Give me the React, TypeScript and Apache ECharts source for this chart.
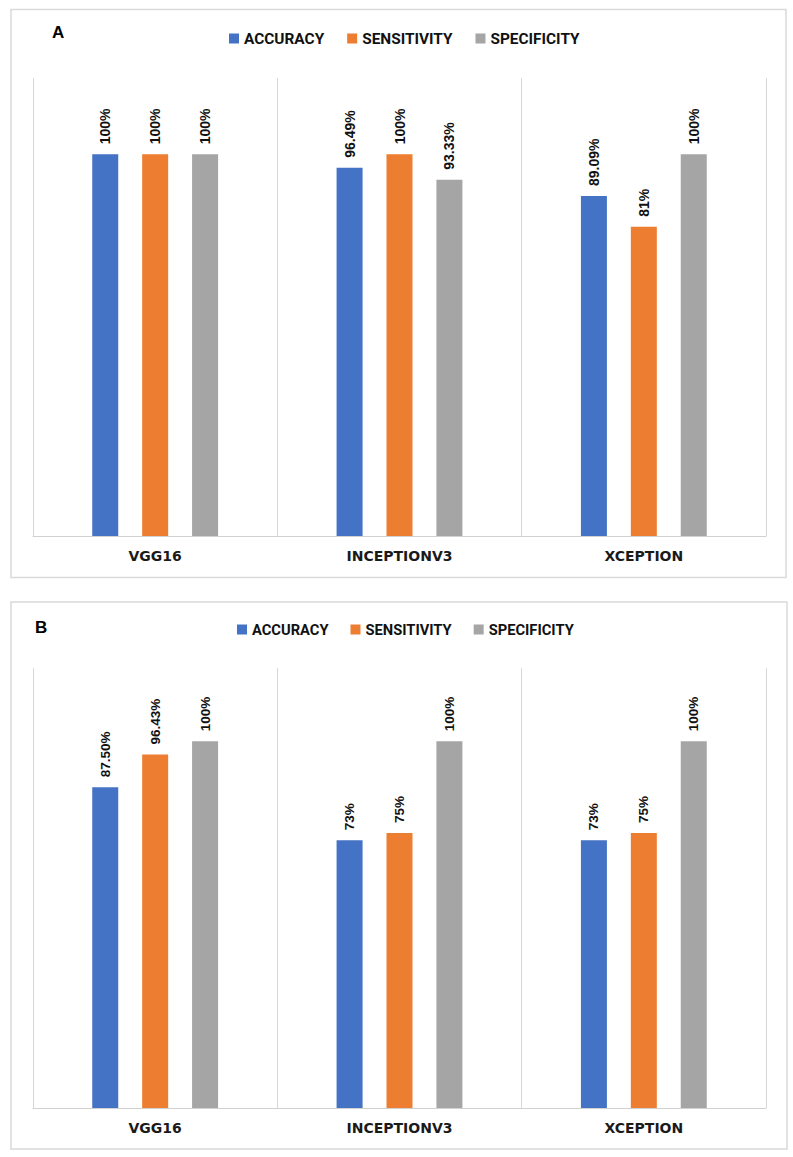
import React, { useEffect, useRef } from "react";
import * as echarts from "echarts";

const categories = ["VGG16", "INCEPTIONV3", "XCEPTION"];
const seriesNames = ["ACCURACY", "SENSITIVITY", "SPECIFICITY"];
const colors = ["#4472C4", "#ED7D31", "#A5A5A5"];

// Panel A values (%), per metric across models
const aAccuracy = [100, 96.49, 89.09];
const aSensitivity = [100, 100, 81];
const aSpecificity = [100, 93.33, 100];
const aAccuracyLabels = ["100%", "96.49%", "89.09%"];
const aSensitivityLabels = ["100%", "100%", "81%"];
const aSpecificityLabels = ["100%", "93.33%", "100%"];

// Panel B values (%)
const bAccuracy = [87.5, 73, 73];
const bSensitivity = [96.43, 75, 75];
const bSpecificity = [100, 100, 100];
const bAccuracyLabels = ["87.50%", "73%", "73%"];
const bSensitivityLabels = ["96.43%", "75%", "75%"];
const bSpecificityLabels = ["100%", "100%", "100%"];

const yMax = 120;

const LEG = 'Roboto, "Liberation Sans", sans-serif';
const SANS = '"Liberation Sans", Arial, sans-serif';
const CAT = '"DejaVu Sans", Verdana, sans-serif';

export default function App() {
  const ref = useRef<HTMLDivElement>(null);

  useEffect(() => {
    document.body.style.margin = "0";
    if (!ref.current) return;
    const chart = echarts.init(ref.current, undefined, { renderer: "svg" });

    const mk = (
      name: string,
      data: number[],
      labels: string[],
      color: string,
      gi: number,
      fs: number
    ) => ({
      name,
      type: "bar",
      xAxisIndex: gi,
      yAxisIndex: gi,
      data,
      barWidth: 26,
      barGap: "92%",
      itemStyle: { color },
      label: {
        show: true,
        position: "top",
        rotate: 90,
        align: "left",
        verticalAlign: "middle",
        distance: 10,
        fontFamily: SANS,
        fontWeight: "bold",
        fontSize: fs,
        color: "#111111",
        formatter: (p: any) => labels[p.dataIndex],
      },
    });

    const xAxisBase = (gi: number) => ({
      type: "category",
      gridIndex: gi,
      data: categories,
      boundaryGap: true,
      axisLine: { show: true, lineStyle: { color: "#d0d0d0", width: 1 } },
      axisTick: { show: false },
      splitLine: { show: true, lineStyle: { color: "#d6d6d6", width: 1 } },
      axisLabel: {
        margin: 13,
        fontFamily: CAT,
        fontWeight: "bold",
        fontSize: 14,
        color: "#1a1a1a",
      },
    });

    const yAxisBase = (gi: number) => ({
      type: "value",
      gridIndex: gi,
      min: 0,
      max: yMax,
      show: false,
      splitLine: { show: false },
    });

    const legendBase = (top: number, left: number, fs: number, gap: number) => ({
      top,
      left,
      padding: 0,
      orient: "horizontal",
      icon: "rect",
      itemWidth: 10,
      itemHeight: 10,
      itemGap: gap,
      data: seriesNames,
      textStyle: {
        fontFamily: LEG,
        fontWeight: "bold",
        fontSize: fs,
        color: "#111111",
      },
    });

    chart.setOption({
      animation: false,
      backgroundColor: "#ffffff",
      color: colors,
      legend: [legendBase(31, 229, 15.4, 23), legendBase(622, 237, 14.7, 22)],
      grid: [
        { left: 33, right: 27, top: 78, bottom: 621 },
        { left: 33, right: 27, top: 668, bottom: 49 },
      ],
      xAxis: [xAxisBase(0), xAxisBase(1)],
      yAxis: [yAxisBase(0), yAxisBase(1)],
      series: [
        mk(seriesNames[0], aAccuracy, aAccuracyLabels, colors[0], 0, 14),
        mk(seriesNames[1], aSensitivity, aSensitivityLabels, colors[1], 0, 14),
        mk(seriesNames[2], aSpecificity, aSpecificityLabels, colors[2], 0, 14),
        mk(seriesNames[0], bAccuracy, bAccuracyLabels, colors[0], 1, 13.5),
        mk(seriesNames[1], bSensitivity, bSensitivityLabels, colors[1], 1, 13.5),
        mk(seriesNames[2], bSpecificity, bSpecificityLabels, colors[2], 1, 13.5),
      ],
      graphic: [
        {
          type: "rect",
          shape: { x: 11, y: 9.5, width: 775, height: 568 },
          style: { fill: "none", stroke: "#d9d9d9", lineWidth: 1.5 },
          silent: true,
          z: -1,
        },
        {
          type: "rect",
          shape: { x: 11, y: 602, width: 776, height: 547 },
          style: { fill: "none", stroke: "#d9d9d9", lineWidth: 1.5 },
          silent: true,
          z: -1,
        },
        {
          type: "text",
          left: 52,
          top: 24,
          style: {
            text: "A",
            font: 'bold 17px "Liberation Sans", Arial, sans-serif',
            fill: "#000",
          },
        },
        {
          type: "text",
          left: 35,
          top: 619,
          style: {
            text: "B",
            font: 'bold 17px "Liberation Sans", Arial, sans-serif',
            fill: "#000",
          },
        },
      ],
    });

    return () => chart.dispose();
  }, []);

  return <div ref={ref} style={{ width: 793, height: 1157 }} />;
}
